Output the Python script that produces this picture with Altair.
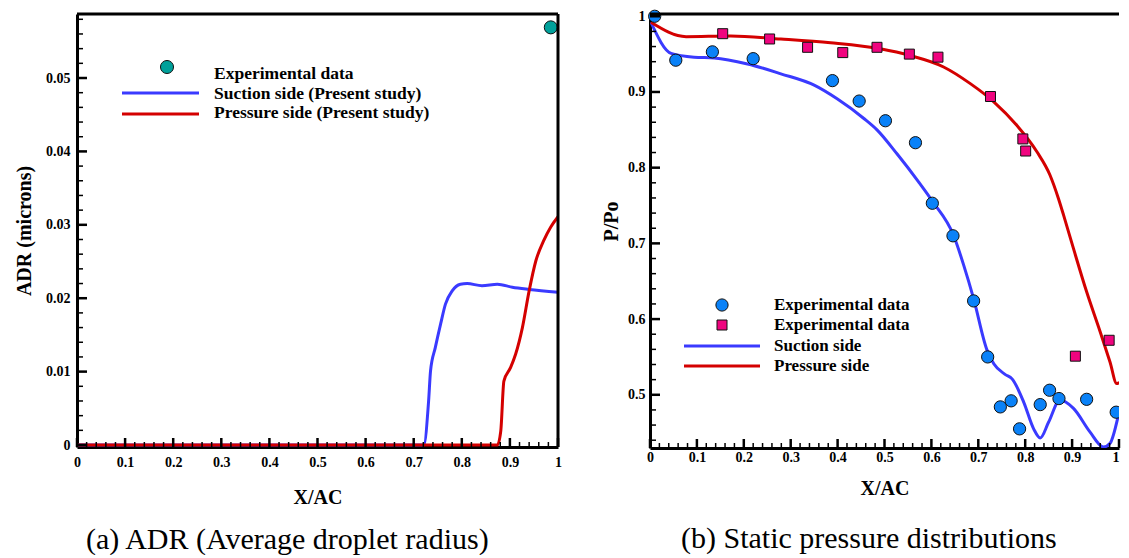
import altair as alt
import pandas as pd

# ---------------- data: panel (a) ADR ----------------
a_exp_x = [0.985]
a_exp_y = [0.0569]

a_suction_x = [0.0, 0.721, 0.731, 0.735, 0.745, 0.756, 0.766, 0.780, 0.797, 0.811, 0.842, 0.874, 0.905, 0.940, 1.0]
a_suction_y = [0.0, 0.0, 0.0060, 0.0101, 0.0133, 0.0165, 0.0192, 0.0210, 0.0219, 0.0220, 0.0217, 0.0219, 0.0215, 0.0212, 0.0208]

a_pressure_x = [0.0, 0.874, 0.881, 0.8875, 0.901, 0.912, 0.926, 0.940, 0.954, 0.970, 0.985, 1.0]
a_pressure_y = [0.0, 0.0, 0.0019, 0.0087, 0.0105, 0.0124, 0.0160, 0.0210, 0.0251, 0.0278, 0.0297, 0.0311]

# ---------------- data: panel (b) static pressure ----------------
b_exp_s_x = [0.01, 0.055, 0.133, 0.220, 0.389, 0.446, 0.502, 0.566, 0.602, 0.646, 0.690, 0.720,
             0.747, 0.770, 0.788, 0.832, 0.852, 0.872, 0.931, 0.994]
b_exp_s_y = [1.000, 0.942, 0.953, 0.944, 0.915, 0.888, 0.862, 0.833, 0.753, 0.710, 0.624, 0.550,
             0.484, 0.492, 0.455, 0.487, 0.506, 0.495, 0.494, 0.477]

b_exp_p_x = [0.155, 0.255, 0.336, 0.411, 0.484, 0.553, 0.614, 0.726, 0.795, 0.801, 0.907, 0.979]
b_exp_p_y = [0.977, 0.970, 0.959, 0.952, 0.959, 0.950, 0.946, 0.894, 0.838, 0.822, 0.551, 0.572]

b_suction_x = [0.002, 0.045, 0.094, 0.137, 0.208, 0.279, 0.350, 0.399, 0.456, 0.484, 0.527, 0.573,
               0.603, 0.647, 0.669, 0.690, 0.718, 0.733, 0.757, 0.772, 0.797, 0.818, 0.832, 0.850,
               0.874, 0.903, 0.938, 0.967, 0.981, 1.002, 1.013]
b_suction_y = [0.992, 0.951, 0.946, 0.945, 0.937, 0.924, 0.909, 0.891, 0.865, 0.850, 0.818, 0.781,
               0.755, 0.711, 0.671, 0.627, 0.560, 0.541, 0.527, 0.521, 0.490, 0.455, 0.443, 0.464,
               0.493, 0.482, 0.451, 0.431, 0.436, 0.482, 0.513]

b_pressure_x = [0.002, 0.077, 0.172, 0.279, 0.385, 0.491, 0.555, 0.626, 0.683, 0.733, 0.782, 0.825,
                0.853, 0.871, 0.882, 0.903, 0.931, 0.960, 0.981, 0.995, 1.009, 1.014]
b_pressure_y = [0.992, 0.973, 0.974, 0.970, 0.965, 0.957, 0.948, 0.933, 0.911, 0.887, 0.856, 0.821,
                0.790, 0.759, 0.737, 0.693, 0.636, 0.583, 0.543, 0.515, 0.519, 0.521]

# ---------------- tick values ----------------
x_major = [0, 0.1, 0.2, 0.3, 0.4, 0.5, 0.6, 0.7, 0.8, 0.9, 1]
x_minor = [round(i * 0.02, 2) for i in range(51) if i % 5 != 0]
a_y_major = [0, 0.01, 0.02, 0.03, 0.04, 0.05]
a_y_minor = [round(i * 0.002, 3) for i in range(1, 30) if i % 5 != 0]
b_y_major = [0.5, 0.6, 0.7, 0.8, 0.9, 1]
b_y_minor = [round(0.44 + i * 0.02, 2) for i in range(28) if i % 5 != 3]

a_legend = ["Experimental data", "Suction side (Present study)", "Pressure side (Present study)"]
b_legend = ["Experimental data", "Experimental data", "Suction side", "Pressure side"]
captions = ["(a) ADR (Average droplet radius)", "(b) Static pressure distributions"]
titles = {"ax": "X/AC", "ay": "ADR (microns)", "bx": "X/AC", "by": "P/Po"}

# ---------------- styles ----------------
FONT = "Liberation Serif"
BLUE = "#3a3aff"
RED = "#d40000"
TEAL = "#00a09a"
CBLUE = "#0a82f8"
PINK = "#f0047f"

W1, H1 = 481, 433
W2, H2 = 469, 434


def frame(**cols):
    return pd.DataFrame(cols)


def panel(W, H, xs, ys, xax, yax, lines, points, y_major, y_minor, legend_layers, caption, cap_dx,
          cap_offset, right_border):
    X = alt.X("x:Q", scale=xs, axis=xax)
    Y = alt.Y("y:Q", scale=ys, axis=yax)
    layers = []
    for xv, yv, col in lines:
        layers.append(
            alt.Chart(frame(x=xv, y=yv)).mark_line(color=col, strokeWidth=3, interpolate="monotone", clip=True)
            .encode(x=X, y=Y)
        )
    for xv, yv, shape, fill, size in points:
        base = alt.Chart(frame(x=xv, y=yv))
        # markers touching the right (cropped) edge are clipped to the plot area
        for test, clip in (("datum.x < 0.99", False), ("datum.x >= 0.99", True)):
            layers.append(
                base.transform_filter(test)
                .mark_point(shape=shape, filled=True, fill=fill, stroke="#111111", strokeWidth=1,
                            size=size, opacity=1, clip=clip)
                .encode(x=X, y=Y)
            )
    # inward ticks
    layers.append(alt.Chart(frame(y=y_major)).mark_rule(color="black", strokeWidth=2.5)
                  .encode(y=Y, x=alt.value(0), x2=alt.value(10)))
    layers.append(alt.Chart(frame(y=y_minor)).mark_rule(color="black", strokeWidth=1.5)
                  .encode(y=Y, x=alt.value(0), x2=alt.value(6)))
    layers.append(alt.Chart(frame(x=x_major)).mark_rule(color="black", strokeWidth=2.5)
                  .encode(x=X, y=alt.value(H), y2=alt.value(H - 9)))
    layers.append(alt.Chart(frame(x=x_minor)).mark_rule(color="black", strokeWidth=1.5)
                  .encode(x=X, y=alt.value(H), y2=alt.value(H - 5)))
    # frame top (and right)
    layers.append(alt.Chart(frame(k=[0])).mark_rule(color="black", strokeWidth=3)
                  .encode(x=alt.value(0), x2=alt.value(W), y=alt.value(0)))
    if right_border:
        layers.append(alt.Chart(frame(k=[0])).mark_rule(color="black", strokeWidth=3)
                      .encode(x=alt.value(W), y=alt.value(0), y2=alt.value(H)))
    layers += legend_layers
    return alt.layer(*layers).properties(
        width=W, height=H,
        title=alt.TitleParams(caption, orient="bottom", anchor="start", frame="group", dx=cap_dx,
                              offset=cap_offset, font=FONT, fontSize=30, fontWeight="normal", color="black"),
    )


def leg_text(label, x, y, fs):
    return alt.Chart(frame(label=[label])).mark_text(align="left", baseline="middle", font=FONT, fontSize=fs,
                                                     fontWeight="bold", color="black").encode(
        x=alt.value(x), y=alt.value(y), text="label:N")


def leg_line(x1, x2, y, col):
    return alt.Chart(frame(k=[0])).mark_rule(color=col, strokeWidth=3).encode(
        x=alt.value(x1), x2=alt.value(x2), y=alt.value(y))


def leg_sym(shape, fill, size, x, y):
    return alt.Chart(frame(k=[0])).mark_point(shape=shape, filled=True, fill=fill, stroke="#111111",
                                              strokeWidth=1, size=size, opacity=1).encode(
        x=alt.value(x), y=alt.value(y))


def axis(title, values, lp, tp, **kw):
    return alt.Axis(title=title, values=values, format="~g", ticks=False, grid=False, labelPadding=lp,
                    titlePadding=tp, domainWidth=3, domainColor="black", labelFlush=False, labelOverlap=False, **kw)


left = panel(
    W1, H1,
    alt.Scale(domain=[0, 1], nice=False, zero=False),
    alt.Scale(domain=[-0.00027, 0.05872], nice=False, zero=False),
    axis(titles["ax"], x_major, 8, 18),
    axis(titles["ay"], a_y_major, 7, 11),
    [(a_suction_x, a_suction_y, BLUE), (a_pressure_x, a_pressure_y, RED)],
    [(a_exp_x, a_exp_y, "circle", TEAL, 170)],
    a_y_major, a_y_minor,
    [
        leg_sym("circle", TEAL, 170, 90, 53),
        leg_text(a_legend[0], 137, 60, 17.5),
        leg_line(45, 122, 79, BLUE),
        leg_text(a_legend[1], 137, 80, 17.5),
        leg_line(45, 122, 100, RED),
        leg_text(a_legend[2], 137, 99, 17.5),
    ],
    captions[0], 9, 18, True,
)

right = panel(
    W2, H2,
    alt.Scale(domain=[0, 1], nice=False, zero=False),
    alt.Scale(domain=[0.4297, 1.003], nice=False, zero=False),
    axis(titles["bx"], x_major, 2, 14,
         labelAlign={"condition": {"test": "datum.value == 1", "value": "right"}, "value": "center"}),
    axis(titles["by"], b_y_major, 5, 6, titleY=207),
    [(b_suction_x, b_suction_y, BLUE), (b_pressure_x, b_pressure_y, RED)],
    [(b_exp_s_x, b_exp_s_y, "circle", CBLUE, 150), (b_exp_p_x, b_exp_p_y, "square", PINK, 100)],
    b_y_major, b_y_minor,
    [
        leg_sym("circle", CBLUE, 150, 72, 291),
        leg_text(b_legend[0], 124, 291, 17),
        leg_sym("square", PINK, 100, 72, 311),
        leg_text(b_legend[1], 124, 311, 17),
        leg_line(34, 110, 332, BLUE),
        leg_text(b_legend[2], 124, 332, 17),
        leg_line(34, 110, 352, RED),
        leg_text(b_legend[3], 124, 352, 17),
    ],
    captions[1], 31, 26, False,
)

chart = (
    alt.hconcat(left, right, spacing=39)
    .properties(padding={"left": 6, "top": 0, "right": 0, "bottom": 0}, background="white")
    .configure_view(stroke=None)
    .configure_axis(labelFont=FONT, labelFontSize=14, labelFontWeight="bold", labelColor="black",
                    titleFont=FONT, titleFontSize=20, titleFontWeight="bold", titleColor="black")
)

chart.save("out.html", embed_options={"renderer": "svg", "actions": False})
